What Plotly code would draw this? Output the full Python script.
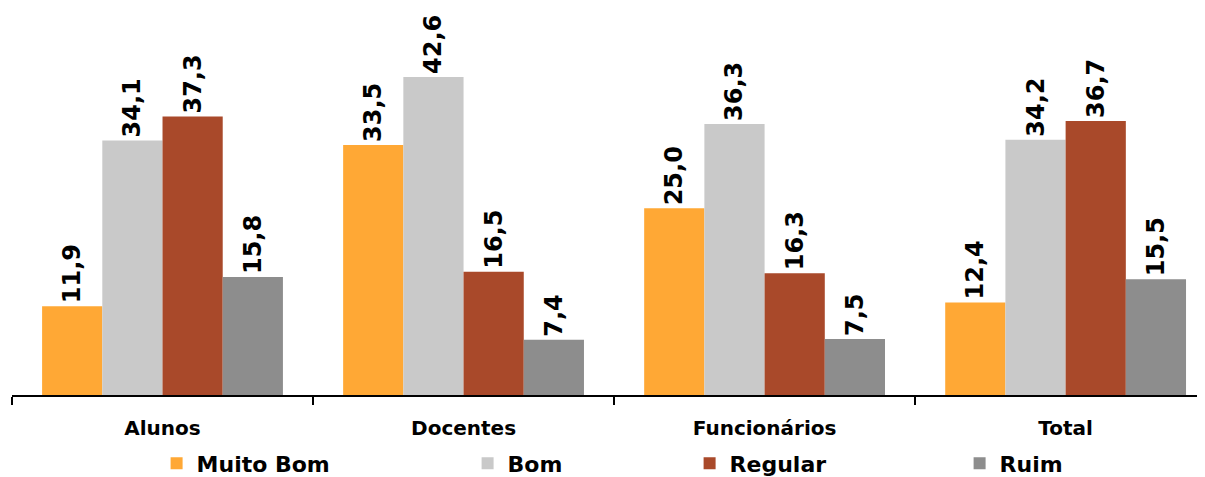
import plotly.graph_objects as go

categories = ["Alunos", "Docentes", "Funcionários", "Total"]
series_names = ["Muito Bom", "Bom", "Regular", "Ruim"]
muito_bom = [11.9, 33.5, 25.0, 12.4]
bom = [34.1, 42.6, 36.3, 34.2]
regular = [37.3, 16.5, 16.3, 36.7]
ruim = [15.8, 7.4, 7.5, 15.5]

values = [muito_bom, bom, regular, ruim]
colors = ["#FFA835", "#C9C9C9", "#A9492A", "#8D8D8D"]
legend_x_px = [148.6, 459.6, 681.6, 951.6]
FONT = "DejaVu Sans"
FIG_W, FIG_H = 1197, 469

fig = go.Figure()
legend_ids = ["legend", "legend2", "legend3", "legend4"]
for name, vals, col, lid in zip(series_names, values, colors, legend_ids):
    fig.add_trace(go.Bar(
        x=categories, y=vals, name=name, legend=lid, showlegend=True,
        marker=dict(color=col, line=dict(width=0)),
        texttemplate="%{y:.1f}", textposition="outside", textangle=-90,
        textfont=dict(family=FONT, size=24, color="black", weight="bold"),
        cliponaxis=False,
    ))

legend_common = dict(
    orientation="h", xref="container", yref="container",
    y=0.0288, xanchor="left", yanchor="middle",
    font=dict(family=FONT, size=22, color="black", weight="bold"),
    bgcolor="rgba(0,0,0,0)",
)
legend_layout = {}
for lid, lx in zip(legend_ids, legend_x_px):
    legend_layout[lid] = dict(legend_common, x=lx / FIG_W, visible=True)

fig.update_layout(
    width=FIG_W, height=FIG_H,
    showlegend=True,
    barmode="group", bargap=0.2, bargroupgap=0,
    separators=", ",
    plot_bgcolor="white", paper_bgcolor="white",
    margin=dict(l=4, r=0, t=0, b=82),
    font=dict(family=FONT, color="black"),
    xaxis=dict(
        range=[-0.5, 3.463], showline=True, linecolor="black", linewidth=2,
        ticks="outside", tickson="boundaries", ticklen=8, tickwidth=2, tickcolor="black",
        tickfont=dict(family=FONT, size=20, color="black", weight="bold"),
        ticklabelstandoff=14,
        showgrid=False,
    ),
    yaxis=dict(range=[0, 51.84], visible=False, showgrid=False),
    **legend_layout,
)

fig.write_html("out.html")
